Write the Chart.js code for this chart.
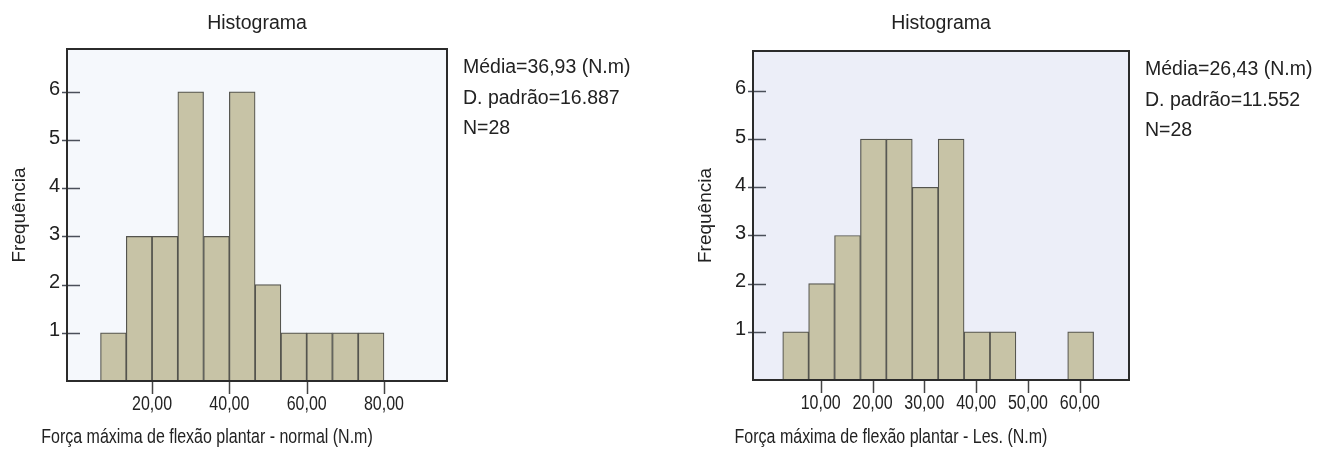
<!DOCTYPE html>
<html>
<head>
<meta charset="utf-8">
<script src="https://cdn.jsdelivr.net/npm/chart.js@4.4.1/dist/chart.umd.min.js"></script>
<style>
  html, body { margin: 0; padding: 0; background: #fff; }
  #wrap { position: relative; width: 1330px; height: 450px; }
  .box { position: absolute; top: 0; width: 665px; height: 450px; }
</style>
</head>
<body>
<div id="wrap">
  <div class="box" style="left:0"><canvas id="chartNormal" width="665" height="450"></canvas></div>
  <div class="box" style="left:665px"><canvas id="chartLes" width="665" height="450"></canvas></div>
</div>
<script>
// histogram bins (centres) and counts
const normalBins = [10, 16.67, 23.33, 30, 36.67, 43.33, 50, 56.67, 63.33, 70, 76.67];
const normalCounts = [1, 3, 3, 6, 3, 6, 2, 1, 1, 1, 1];
const normalTicks = [20, 40, 60, 80];
const normalStats = ['Média=36,93 (N.m)', 'D. padrão=16.887', 'N=28'];

const lesBins = [5.17, 10.17, 15.17, 20.17, 25.17, 30.17, 35.17, 40.17, 45.17, 50.17, 55.17, 60.17];
const lesCounts = [1, 2, 3, 5, 5, 4, 5, 1, 1, 0, 0, 1];
const lesTicks = [10, 20, 30, 40, 50, 60];
const lesStats = ['Média=26,43 (N.m)', 'D. padrão=11.552', 'N=28'];

const freqTicks = [1, 2, 3, 4, 5, 6];

const REGULAR = '"Liberation Sans", Arial, Helvetica, sans-serif';
const TEXT = '#222222';

// text squeezed sideways, the x axis uses a condensed face in the original
function narrowText(ctx, str, x, y, size) {
    ctx.save();
    ctx.translate(x, y);
    ctx.scale(0.78, 1);
    ctx.font = size + 'px ' + REGULAR;
    ctx.fillText(str, 0, 0);
    ctx.restore();
}

// plot background, frame, tick marks, x labels, stats and x title
const framePlugin = {
    id: 'frame',
    beforeDraw(chart, args, opts) {
        const { ctx, chartArea: a } = chart;
        ctx.save();
        ctx.fillStyle = opts.bg;
        ctx.fillRect(a.left, a.top, a.right - a.left, a.bottom - a.top);
        ctx.restore();
    },
    afterDraw(chart, args, opts) {
        const { ctx, chartArea: a, scales } = chart;
        const xs = scales.x;
        const ys = scales.y;
        ctx.save();
        ctx.lineWidth = 1.5;
        ctx.strokeStyle = '#4a4f5a';
        ys.ticks.forEach(t => {
            const py = Math.round(ys.getPixelForValue(t.value)) + 0.5;
            ctx.beginPath();
            ctx.moveTo(a.left - 5, py);
            ctx.lineTo(a.left + 13, py);
            ctx.stroke();
        });
        ctx.strokeStyle = '#444444';
        opts.xTicks.forEach(v => {
            const px = Math.round(xs.getPixelForValue(v)) + 0.5;
            ctx.beginPath();
            ctx.moveTo(px, a.bottom + 1);
            ctx.lineTo(px, a.bottom + 13);
            ctx.stroke();
        });
        ctx.strokeStyle = '#2b2b2b';
        ctx.lineWidth = 2;
        ctx.strokeRect(a.left, a.top, a.right - a.left, a.bottom - a.top);

        ctx.fillStyle = TEXT;
        ctx.font = '19.5px ' + REGULAR;
        ctx.textAlign = 'left';
        ctx.textBaseline = 'alphabetic';
        opts.stats.forEach((s, i) => ctx.fillText(s, a.right + 16, a.top + 24 + i * 30.5));

        ctx.textAlign = 'center';
        ctx.textBaseline = 'middle';
        opts.xTicks.forEach(v => {
            narrowText(ctx, v.toFixed(2).replace('.', ','), xs.getPixelForValue(v), a.bottom + 23, 20.5);
        });
        narrowText(ctx, opts.xTitle, (a.left + a.right) / 2 - 50, 437, 20.5);
        ctx.restore();
    }
};

function makeHistogram(id, bins, counts, xTicks, xMin, xMax, yMax, stats, xTitle, bg, pad) {
    const canvas = document.getElementById(id);
    return new Chart(canvas.getContext('2d'), {
        type: 'bar',
        data: {
            datasets: [{
                data: bins.map((b, i) => ({ x: b, y: counts[i] })),
                backgroundColor: '#c7c3a6',
                borderColor: '#54544e',
                borderWidth: 1.2,
                barPercentage: 1,
                categoryPercentage: 1,
            }]
        },
        options: {
            responsive: false,
            animation: false,
            layout: { padding: { left: pad.left, right: pad.right, top: 0, bottom: 0 } },
            plugins: {
                legend: { display: false },
                tooltip: { enabled: false },
                title: {
                    display: true,
                    text: 'Histograma',
                    fullSize: false,
                    color: TEXT,
                    font: { family: REGULAR, size: 19.5, weight: 'normal' },
                    padding: { top: 12, bottom: pad.top - 35.4 }
                },
                frame: { bg: bg, stats: stats, xTitle: xTitle, xTicks: xTicks }
            },
            scales: {
                x: {
                    type: 'linear',
                    min: xMin,
                    max: xMax,
                    offset: false,
                    afterFit: s => { s.height = 450 - pad.bottom; },
                    grid: { display: false },
                    border: { display: false },
                    ticks: { display: false }
                },
                y: {
                    min: 0,
                    max: yMax,
                    afterBuildTicks: s => { s.ticks = freqTicks.map(v => ({ value: v })); },
                    afterFit: s => { s.width = 67; },
                    grid: { display: false, drawTicks: false },
                    border: { display: false },
                    title: {
                        display: true,
                        text: 'Frequência',
                        color: TEXT,
                        font: { family: REGULAR, size: 19 },
                        padding: { top: 8, bottom: 0 }
                    },
                    ticks: {
                        padding: 7,
                        labelOffset: -2,
                        color: TEXT,
                        font: { family: REGULAR, size: 20 }
                    }
                }
            }
        },
        plugins: [framePlugin]
    });
}

makeHistogram('chartNormal', normalBins, normalCounts, normalTicks, -2, 96.3, 6.89,
    normalStats, 'Força máxima de flexão plantar - normal (N.m)', '#f5f8fc',
    { left: 0, right: 218, top: 49, bottom: 381 });

makeHistogram('chartLes', lesBins, lesCounts, lesTicks, -3.07, 69.5, 6.83,
    lesStats, 'Força máxima de flexão plantar - Les. (N.m)', '#eceef8',
    { left: 21, right: 201, top: 51, bottom: 380 });
</script>
</body>
</html>
